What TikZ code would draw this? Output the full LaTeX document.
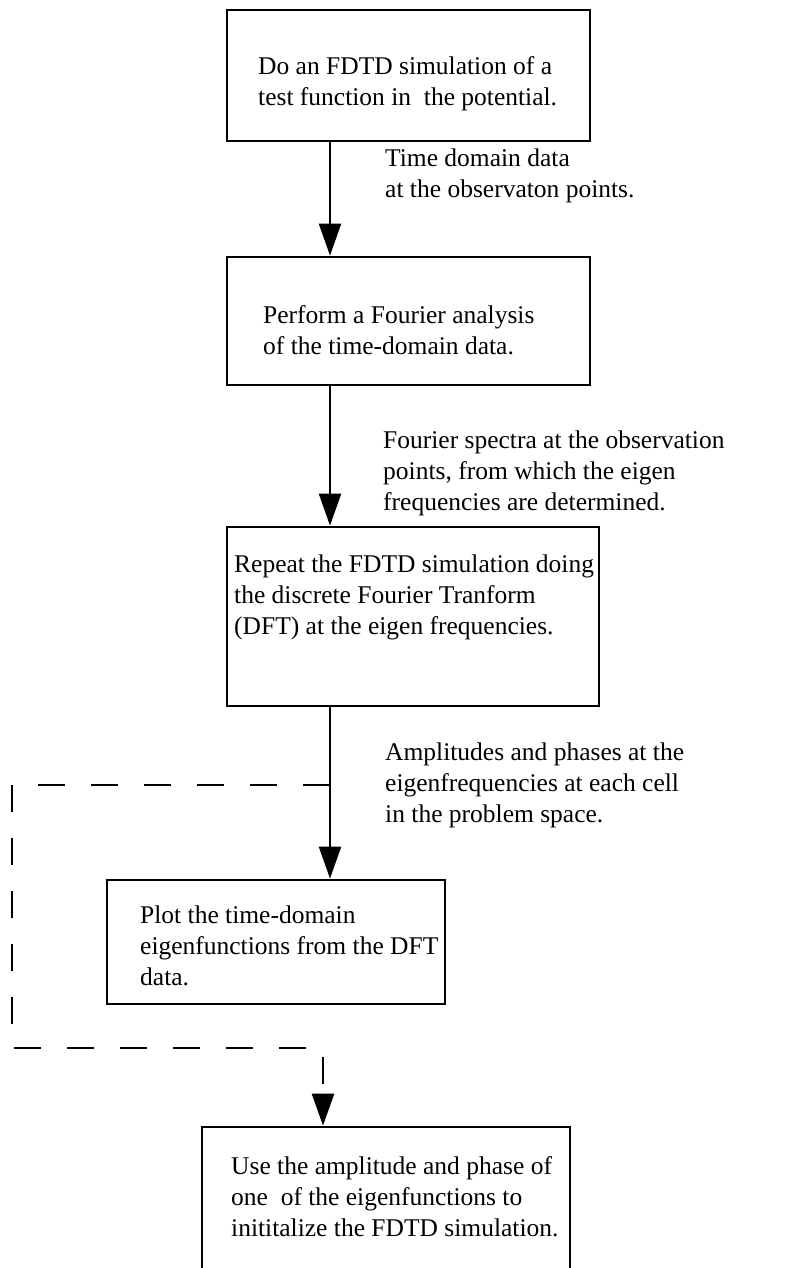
\documentclass[tikz,border=0pt]{standalone}
\usepackage{fontspec}
\setmainfont{Liberation Serif}
\usetikzlibrary{arrows.meta}
\begin{document}
\begin{tikzpicture}[x=1pt,y=-1pt,
  box/.style={draw, line width=2.8pt, inner sep=0pt},
  txt/.style={align=left, inner sep=0pt, anchor=west, font=\fontsize{25.5}{31}\selectfont},
  arr/.style={line width=2.4pt, -{Triangle[length=32pt,width=22pt]}},
  dashln/.style={line width=2.8pt, dash pattern=on 27pt off 26pt, -{Triangle[length=32pt,width=22pt]}}]
\useasboundingbox (0,0) rectangle (807,1268);
% boxes
\node[box, minimum width=363pt, minimum height=131pt] (b1) at (408.5,75.5) {};
\node[box, minimum width=363pt, minimum height=128pt] (b2) at (408.5,321) {};
\node[box, minimum width=372pt, minimum height=179pt] (b3) at (413,616.5) {};
\node[box, minimum width=338pt, minimum height=124pt] (b4) at (276,942) {};
\node[box, minimum width=368pt, minimum height=143pt] (b5) at (386,1198.5) {};
% box texts
\node[txt] (t1) at (258,84) {Do an FDTD simulation of a\\test function in\ \ the potential.};
\node[txt] (t2) at (263,330) {Perform a Fourier analysis\\of the time-domain data.};
\node[txt] (t3) at (234,597) {Repeat the FDTD simulation doing\\the discrete Fourier Tranform\\(DFT) at the eigen frequencies.};
\node[txt] (t4) at (140,946) {Plot the time-domain\\eigenfunctions from the DFT\\data.};
\node[txt] (t5) at (231,1197) {Use the amplitude and phase of\\one\ \ of the eigenfunctions to\\inititalize the FDTD simulation.};
% labels
\node[txt] (l1) at (385,176) {Time domain data\\at the observaton points.};
\node[txt] (l2) at (383,473) {Fourier spectra at the observation\\points, from which the eigen\\frequencies are determined.};
\node[txt] (l3) at (385,785) {Amplitudes and phases at the\\eigenfrequencies at each cell\\in the problem space.};
% connectors
\coordinate (ax) at (330,0);
\draw[arr] (b1.south -| ax) -- (b2.north -| ax);
\draw[arr] (b2.south -| ax) -- (b3.north -| ax);
\draw[arr] (b3.south -| ax) -- (b4.north -| ax);
\coordinate (dj) at (330,785);
\coordinate (c1) at (12,785);
\coordinate (c2) at (12,1048);
\coordinate (c3) at (323,1048);
\draw[dashln] (dj) -- (c1) -- (c2) -- (c3) -- (b5.north -| c3);
\end{tikzpicture}
\end{document}
